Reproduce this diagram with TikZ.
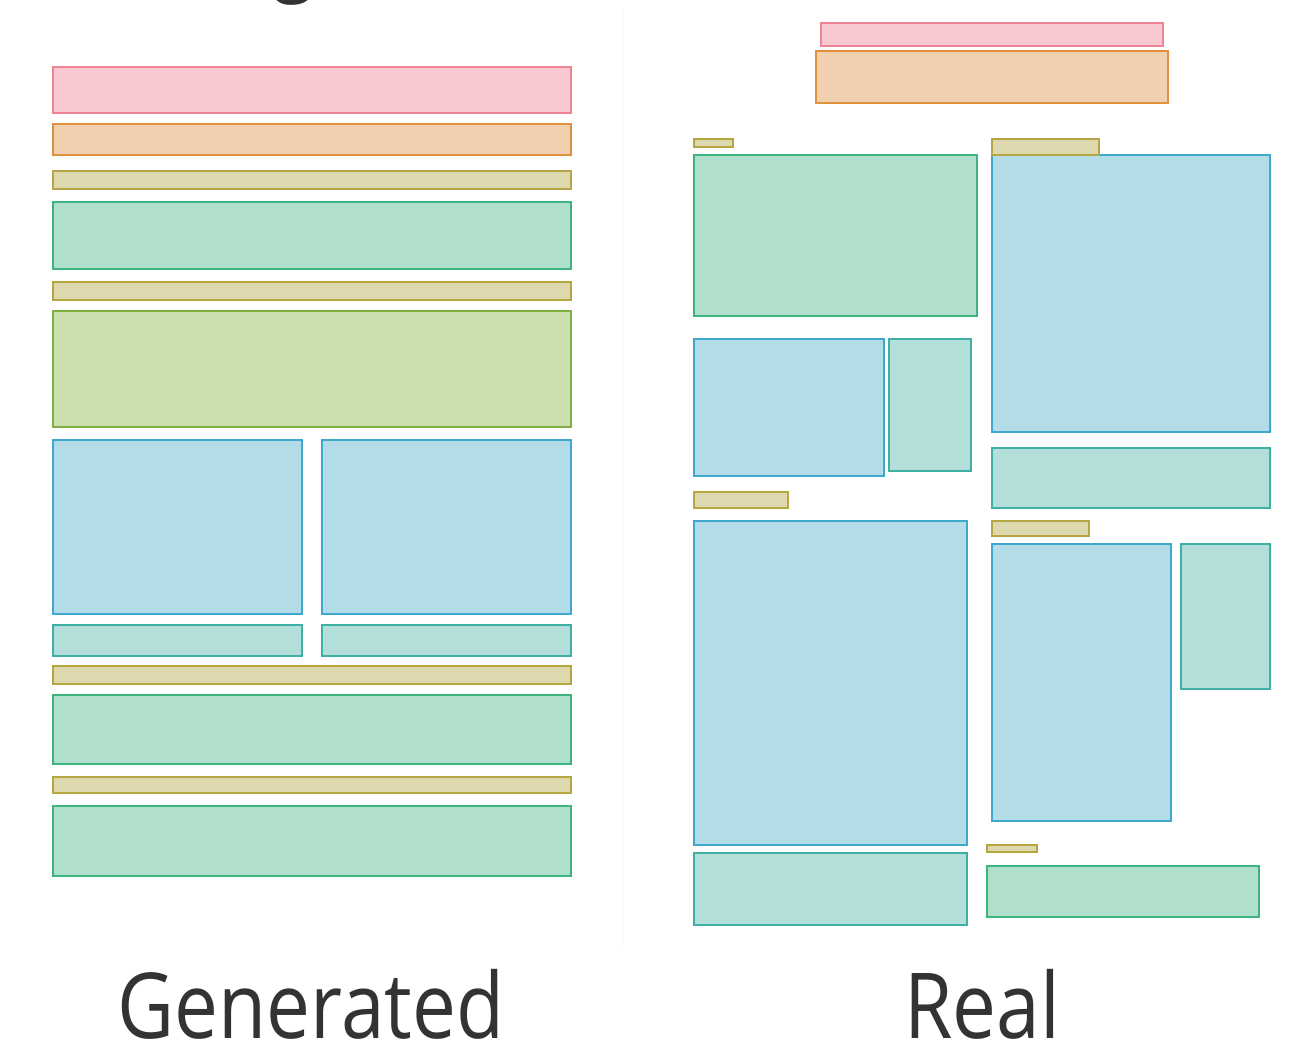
\documentclass[tikz,border=0pt]{standalone}
\usepackage{fontspec}
\setmainfont{Open Sans}
\usepackage{tikz}

\definecolor{pinkfill}{HTML}{FAC8D1}
\definecolor{pinkline}{HTML}{F08497}
\definecolor{orangefill}{HTML}{F0D0AE}
\definecolor{orangeline}{HTML}{E0913E}
\definecolor{khakifill}{HTML}{DED8AE}
\definecolor{khakiline}{HTML}{B5A642}
\definecolor{greenfill}{HTML}{B0E0CC}
\definecolor{greenline}{HTML}{3CB47E}
\definecolor{limefill}{HTML}{CCDFAE}
\definecolor{limeline}{HTML}{80B040}
\definecolor{bluefill}{HTML}{B2DCE8}
\definecolor{blueline}{HTML}{40A8CC}
\definecolor{tealfill}{HTML}{B2DFDA}
\definecolor{tealline}{HTML}{40B0A4}
\definecolor{labelgray}{HTML}{333333}

\newcommand{\narrow}[1]{\scalebox{0.86}[1]{#1}}

\tikzset{
  box/.style={line width=0.6pt},
  title/.style={box, draw=pinkline, fill=pinkfill},
  header/.style={box, draw=orangeline, fill=orangefill},
  caption/.style={box, draw=khakiline, fill=khakifill},
  table/.style={box, draw=greenline, fill=greenfill},
  chart/.style={box, draw=limeline, fill=limefill},
  figure/.style={box, draw=blueline, fill=bluefill},
  note/.style={box, draw=tealline, fill=tealfill},
  panellabel/.style={anchor=base, text=labelgray, font=\fontsize{25.9}{30}\selectfont, inner sep=0pt}
}

\begin{document}
\begin{tikzpicture}[x=0.01cm, y=-0.01cm]
  \useasboundingbox (0,0) rectangle (1298,1042);
  % cut-off heading above
  \begin{scope}
    \clip (0,0) rectangle (1298,40);
    \node[panellabel] (head) at (294,-17) {\narrow{g}};
  \end{scope}
  \draw[gray!4, line width=0.5pt] (623,10) -- (623,945);
  % generated layout
  \draw[title] (53,67) rectangle (571,113);
  \draw[header] (53,124) rectangle (571,155);
  \draw[caption] (53,171) rectangle (571,189);
  \draw[table] (53,202) rectangle (571,269);
  \draw[caption] (53,282) rectangle (571,300);
  \draw[chart] (53,311) rectangle (571,427);
  \draw[figure] (53,440) rectangle (302,614);
  \draw[figure] (322,440) rectangle (571,614);
  \draw[note] (53,625) rectangle (302,656);
  \draw[note] (322,625) rectangle (571,656);
  \draw[caption] (53,666) rectangle (571,684);
  \draw[table] (53,695) rectangle (571,764);
  \draw[caption] (53,777) rectangle (571,793);
  \draw[table] (53,806) rectangle (571,876);
  % real layout
  \draw[title] (821,23) rectangle (1163,46);
  \draw[header] (816,51) rectangle (1168,103);
  \draw[caption] (694,139) rectangle (733,147);
  \draw[table] (694,155) rectangle (977,316);
  \draw[figure] (992,155) rectangle (1270,432);
  \draw[caption] (992,139) rectangle (1099,155);
  \draw[figure] (694,339) rectangle (884,476);
  \draw[note] (889,339) rectangle (971,471);
  \draw[note] (992,448) rectangle (1270,508);
  \draw[caption] (694,492) rectangle (788,508);
  \draw[caption] (992,521) rectangle (1089,536);
  \draw[figure] (694,521) rectangle (967,845);
  \draw[figure] (992,544) rectangle (1171,821);
  \draw[note] (1181,544) rectangle (1270,689);
  \draw[caption] (987,845) rectangle (1037,852);
  \draw[table] (987,866) rectangle (1259,917);
  \draw[note] (694,853) rectangle (967,925);
  % labels
  \node[panellabel] (gen) at (311,1038) {\narrow{Generated}};
  \node[panellabel] (real) at (982,1038) {\narrow{Real}};
\end{tikzpicture}
\end{document}
